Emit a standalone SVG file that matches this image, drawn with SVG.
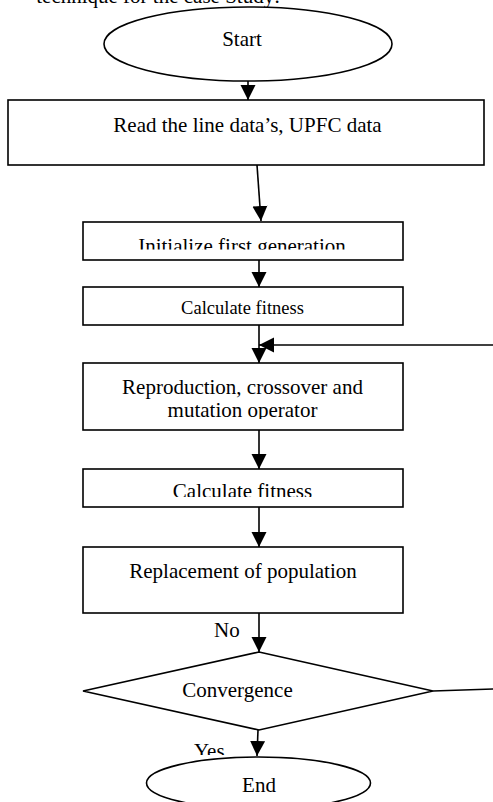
<svg xmlns="http://www.w3.org/2000/svg" width="493" height="802" viewBox="0 0 493 802">
<style>
.shape{fill:#fff;stroke:#000;stroke-width:1.6}
.t{font-family:"Liberation Serif","Times New Roman",serif;font-size:21px;fill:#000}
.m{text-anchor:middle}
.c{stroke:#000;stroke-width:1.6;fill:none}
</style>
<defs>
<marker id="ah" markerUnits="userSpaceOnUse" markerWidth="16" markerHeight="16" refX="15" refY="8" orient="auto" viewBox="0 0 16 16">
<path d="M0,0.5 L15,8 L0,15.5 z" fill="#000"/>
</marker>
<clipPath id="clipInit"><rect x="84" y="223" width="318" height="26.5"/></clipPath>
<clipPath id="clipMut"><rect x="84" y="364" width="318" height="55"/></clipPath>
<clipPath id="clipCalc2"><rect x="84" y="470" width="318" height="27"/></clipPath>
<clipPath id="clipYes"><rect x="180" y="735" width="60" height="20"/></clipPath>
</defs>
<text class="t" x="280" y="2.5" text-anchor="end">technique for the case Study:</text>
<g id="connectors">
<line class="c" x1="248" y1="81" x2="248" y2="100" marker-end="url(#ah)"/>
<line class="c" x1="257" y1="165" x2="261" y2="221" marker-end="url(#ah)"/>
<line class="c" x1="259" y1="260" x2="259" y2="287" marker-end="url(#ah)"/>
<line class="c" x1="259" y1="325" x2="259" y2="363" marker-end="url(#ah)"/>
<line class="c" x1="493" y1="345" x2="259" y2="345" marker-end="url(#ah)"/>
<line class="c" x1="259" y1="430" x2="259" y2="469" marker-end="url(#ah)"/>
<line class="c" x1="259" y1="507" x2="259" y2="547" marker-end="url(#ah)"/>
<line class="c" x1="259" y1="613" x2="259" y2="652" marker-end="url(#ah)"/>
<line class="c" x1="433" y1="691" x2="493" y2="689"/>
<line class="c" x1="258" y1="730" x2="257" y2="756" marker-end="url(#ah)"/>
<text class="t" x="214" y="637">No</text>
<text class="t" x="194" y="758" clip-path="url(#clipYes)">Yes</text>
</g>
<g id="start">
<ellipse class="shape" cx="248" cy="44" rx="144" ry="37"/>
<text class="t m" x="242" y="46">Start</text>
</g>
<g id="read">
<rect class="shape" x="8" y="100" width="476" height="65"/>
<text class="t m" x="247.5" y="132">Read the line data’s, UPFC data</text>
</g>
<g id="init">
<rect class="shape" x="83" y="222" width="320" height="38"/>
<text class="t m" x="242" y="252.5" clip-path="url(#clipInit)">Initialize first generation</text>
</g>
<g id="calc1">
<rect class="shape" x="83" y="287" width="320" height="38"/>
<text class="t m" x="242.5" y="314" style="font-size:18.5px">Calculate fitness</text>
</g>
<g id="repro">
<rect class="shape" x="83" y="363" width="320" height="67"/>
<text class="t m" x="242.5" y="394">Reproduction, crossover and</text>
<text class="t m" x="242.5" y="417" clip-path="url(#clipMut)">mutation operator</text>
</g>
<g id="calc2">
<rect class="shape" x="83" y="469" width="320" height="38"/>
<text class="t m" x="242.5" y="497.5" clip-path="url(#clipCalc2)">Calculate fitness</text>
</g>
<g id="replace">
<rect class="shape" x="83" y="547" width="320" height="66"/>
<text class="t m" x="243" y="578">Replacement of population</text>
</g>
<g id="convergence">
<polygon class="shape" points="259,652 433,691 259,730 83,691"/>
<text class="t m" x="237.5" y="697">Convergence</text>
</g>
<g id="end">
<ellipse class="shape" cx="258.5" cy="783" rx="112" ry="26"/>
<text class="t m" x="259" y="792">End</text>
</g>
</svg>
